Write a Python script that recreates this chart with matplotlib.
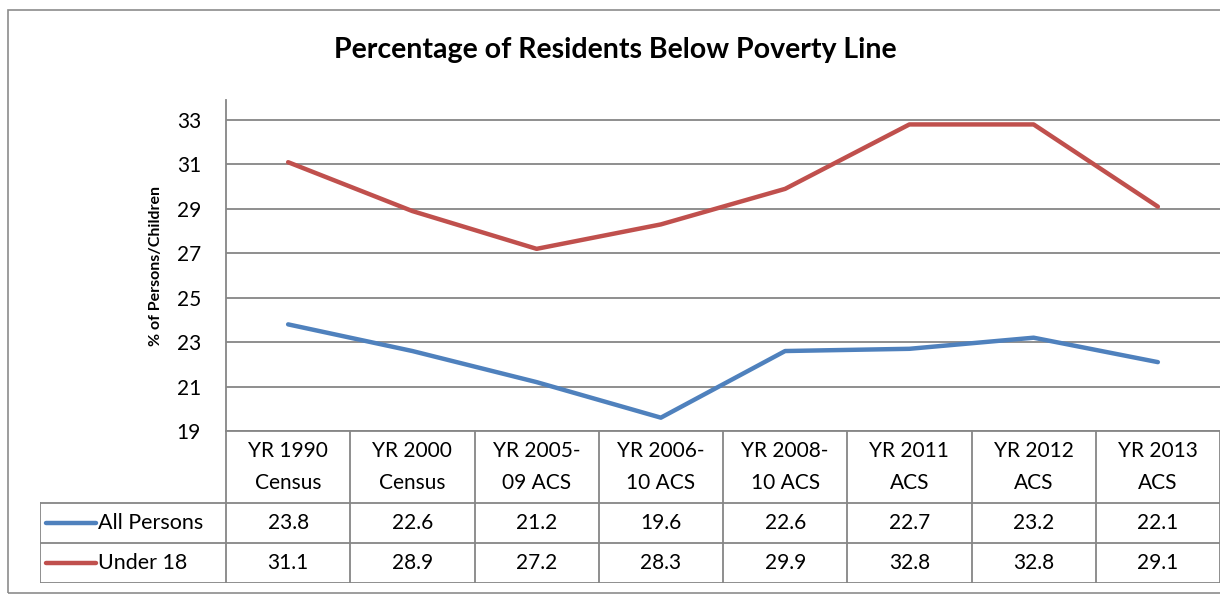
import matplotlib.pyplot as plt
from matplotlib.patches import Rectangle

plt.rcParams['font.family'] = ['Lato', 'DejaVu Sans']

categories = ["YR 1990\nCensus", "YR 2000\nCensus", "YR 2005-\n09 ACS", "YR 2006-\n10 ACS",
              "YR 2008-\n10 ACS", "YR 2011\nACS", "YR 2012\nACS", "YR 2013\nACS"]
all_persons = [23.8, 22.6, 21.2, 19.6, 22.6, 22.7, 23.2, 22.1]
under_18 = [31.1, 28.9, 27.2, 28.3, 29.9, 32.8, 32.8, 29.1]
series_names = ["All Persons", "Under 18"]
yticks = [19, 21, 23, 25, 27, 29, 31, 33]

BLUE = "#4F81BD"
RED = "#C0504D"
GRID = "#868686"

W, H = 1220, 595
fig = plt.figure(figsize=(W / 100, H / 100), dpi=100)

# outer chart border
fig.patches.append(Rectangle((8 / W, 1 - 593 / H), 1.0, (593 - 10) / H, transform=fig.transFigure,
                             fill=False, edgecolor="#8c8c8c", lw=1.2))

fig.text(615 / W, 1 - 50 / H, "Percentage of Residents Below Poverty Line",
         ha="center", va="center", fontsize=20.5, fontweight="bold")

# line chart
ax = fig.add_axes([226 / W, 1 - 431 / H, 1 - 226 / W, (431 - 100) / H])
n = len(categories)
xs = [i + 0.5 for i in range(n)]
ax.plot(xs, all_persons, color=BLUE, lw=3.2, solid_capstyle="round", solid_joinstyle="round", zorder=3)
ax.plot(xs, under_18, color=RED, lw=3.2, solid_capstyle="round", solid_joinstyle="round", zorder=3)
ax.set_xlim(0, n)
ax.set_ylim(19, 33.9)
ax.set_yticks(yticks)
ax.set_xticks([])
ax.tick_params(axis="y", length=0, pad=18, labelsize=15)
ax.grid(axis="y", color=GRID, lw=1.3)
for s in ["top", "right"]:
    ax.spines[s].set_visible(False)
ax.spines["left"].set_color(GRID)
ax.spines["left"].set_linewidth(1.3)
ax.spines["bottom"].set_color(GRID)
ax.spines["bottom"].set_linewidth(1.3)
ax.set_ylabel("% of Persons/Children", fontsize=11.5, fontweight="bold", labelpad=10)

# data table under the chart
leg_w = (226 - 40) / ((W - 226) / n)
tab = fig.add_axes([40 / W, 1 - 583 / H, 1 - 40 / W, (583 - 431) / H])
tab.set_xlim(-leg_w, n)
tab.set_ylim(0, 152)
tab.axis("off")
lc = dict(color=GRID, lw=1.3)
for y in [0, 40, 80]:
    tab.plot([-leg_w, n], [y, y], **lc)
tab.plot([-leg_w, -leg_w], [0, 80], **lc)
for i in range(n + 1):
    tab.plot([i, i], [0, 152], **lc)

for i, cat in enumerate(categories):
    tab.text(i + 0.5, 116, cat, ha="center", va="center", fontsize=15, linespacing=1.75)
    tab.text(i + 0.5, 60, f"{all_persons[i]:.1f}", ha="center", va="center", fontsize=15)
    tab.text(i + 0.5, 20, f"{under_18[i]:.1f}", ha="center", va="center", fontsize=15)

for name, color, y in [(series_names[0], BLUE, 60), (series_names[1], RED, 20)]:
    tab.plot([-leg_w + 0.05, -leg_w + 0.45], [y, y], color=color, lw=3.2, solid_capstyle="round")
    tab.text(-leg_w + 0.47, y, name, ha="left", va="center", fontsize=15.5)

fig.savefig("out.png", dpi=100)
